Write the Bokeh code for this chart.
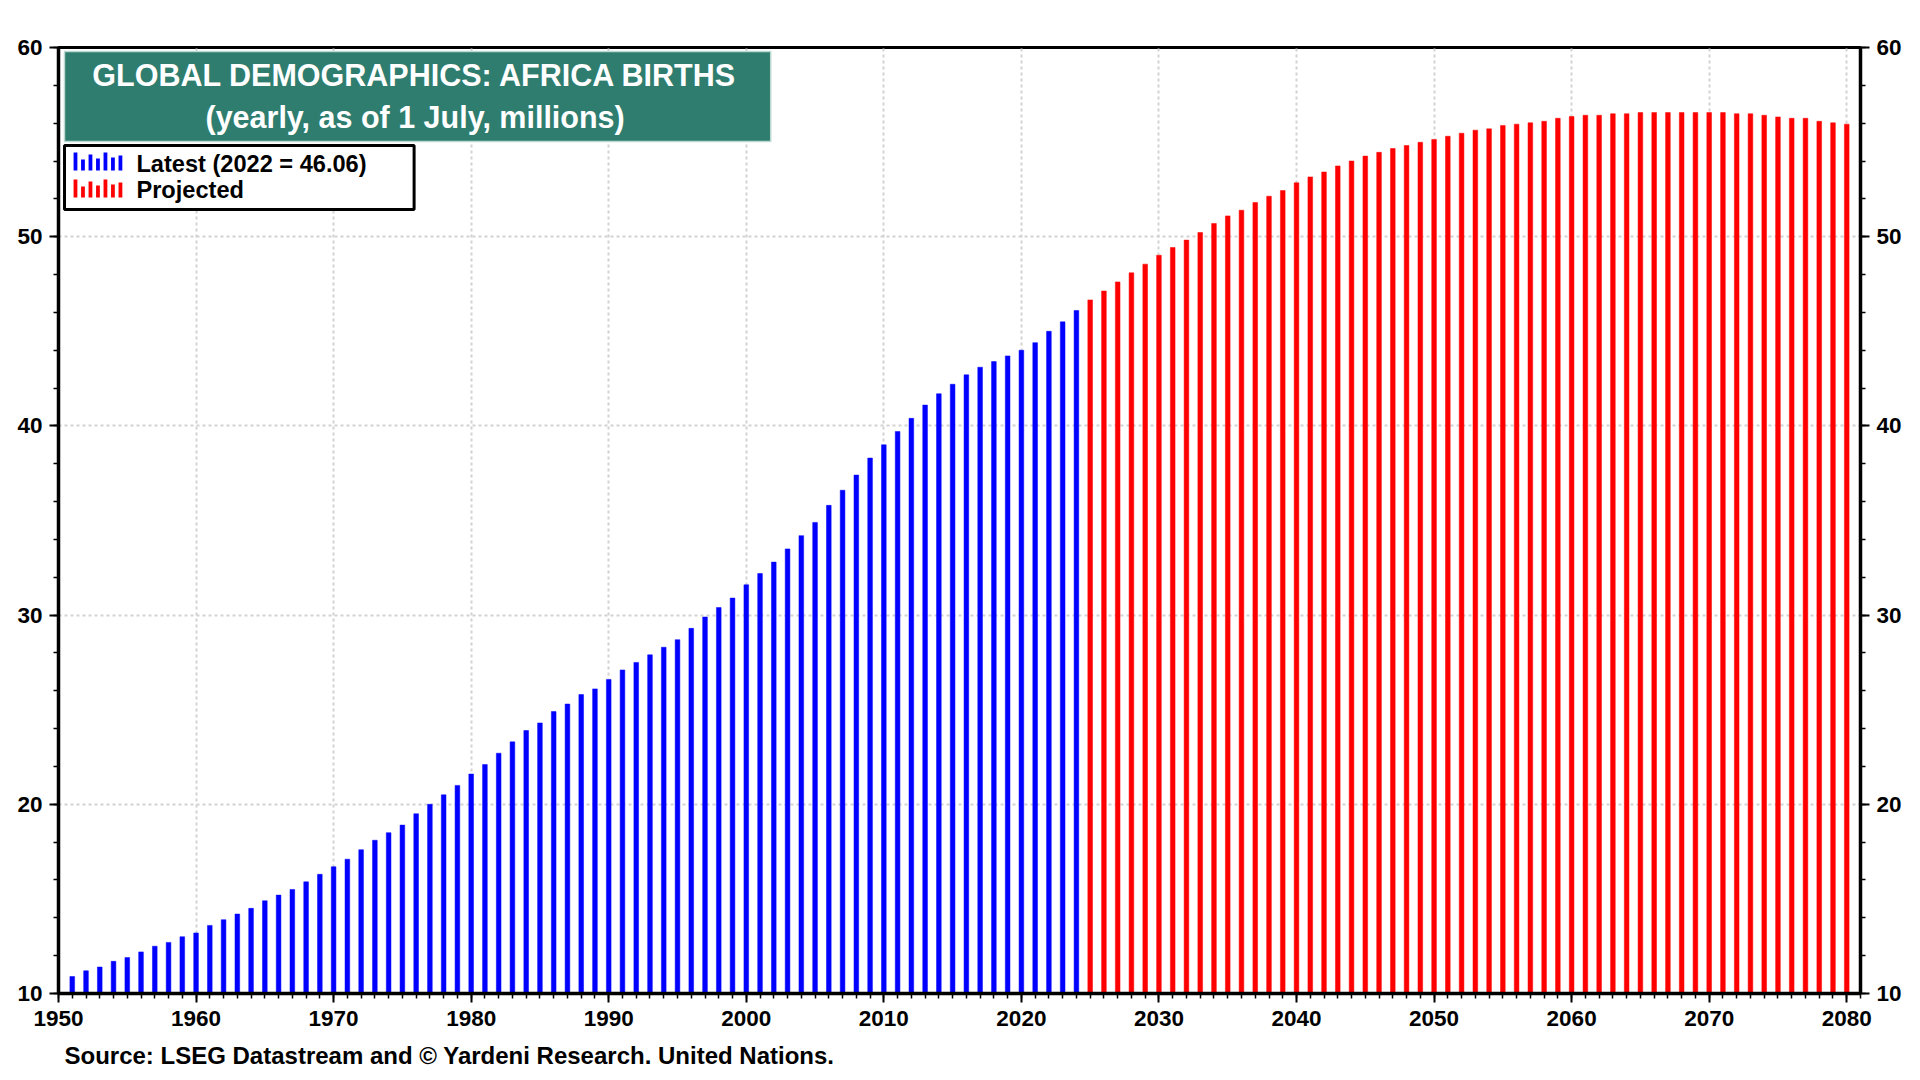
from bokeh.plotting import figure
from bokeh.models import (Range1d, LinearAxis, SingleIntervalTicker, BoxAnnotation,
                          Label, ColumnDataSource, Title)
from bokeh.embed import file_html
from bokeh.resources import INLINE

# ---------------- data ----------------
latest_years = list(range(1951, 2025))
latest_births = [10.9, 11.2, 11.4, 11.7, 11.9, 12.2, 12.5, 12.7, 13.0, 13.2,
                 13.6, 13.9, 14.2, 14.5, 14.9, 15.2, 15.5, 15.9, 16.3, 16.7,
                 17.1, 17.6, 18.1, 18.5, 18.9, 19.5, 20.0, 20.5, 21.0, 21.6,
                 22.1, 22.7, 23.3, 23.9, 24.3, 24.9, 25.3, 25.8, 26.1, 26.6,
                 27.1, 27.5, 27.9, 28.3, 28.7, 29.3, 29.9, 30.4, 30.9, 31.6,
                 32.2, 32.8, 33.5, 34.2, 34.9, 35.8, 36.6, 37.4, 38.3, 39.0,
                 39.7, 40.4, 41.1, 41.7, 42.2, 42.7, 43.1, 43.4, 43.7, 44.0,
                 44.4, 45.0, 45.5, 46.1]

projected_years = list(range(2025, 2081))
projected_births = [46.66, 47.13, 47.61, 48.09, 48.55, 49.02, 49.43, 49.82, 50.22, 50.70,
                    51.10, 51.40, 51.81, 52.14, 52.44, 52.85, 53.16, 53.42, 53.74, 54.00,
                    54.26, 54.46, 54.66, 54.82, 54.99, 55.14, 55.31, 55.47, 55.63, 55.70,
                    55.88, 55.95, 56.02, 56.10, 56.26, 56.35, 56.42, 56.42, 56.50, 56.50,
                    56.56, 56.56, 56.56, 56.56, 56.56, 56.56, 56.56, 56.50, 56.50, 56.42,
                    56.33, 56.26, 56.26, 56.10, 56.02, 55.95]

title_line1 = "GLOBAL DEMOGRAPHICS: AFRICA BIRTHS"
title_line2 = "(yearly, as of 1 July, millions)"
legend_latest = "Latest (2022 = 46.06)"
legend_projected = "Projected"
source_text = "Source: LSEG Datastream and \u00a9 Yardeni Research. United Nations."

# ---------------- layout helpers ----------------
X0, X1 = 1950, 2081
Y0, Y1 = 10, 60
FR_L, FR_R, FR_T, FR_B = 58, 1862, 47, 993   # frame edges in picture pixels
W, H = 1904, 1080

def dx(px):
    return X0 + (px - FR_L) * (X1 - X0) / (FR_R - FR_L)

def dy(py):
    return Y0 + (FR_B - py) * (Y1 - Y0) / (FR_B - FR_T)

FONT = "Liberation Sans"

p = figure(width=W, height=H, output_backend="svg", toolbar_location=None,
           x_range=Range1d(X0, X1), y_range=Range1d(Y0, Y1),
           min_border_left=FR_L, min_border_right=W - FR_R,
           min_border_top=FR_T, min_border_bottom=H - FR_B)
p.background_fill_color = "white"
p.border_fill_color = "white"
p.outline_line_color = "black"
p.outline_line_width = 3

right_axis = LinearAxis()
p.add_layout(right_axis, "right")

for ax in [p.yaxis[0], right_axis]:
    ax.ticker = SingleIntervalTicker(interval=10, num_minor_ticks=5)
    ax.major_label_standoff = 7

p.xaxis.ticker = SingleIntervalTicker(interval=10, num_minor_ticks=10)
p.xaxis.major_label_standoff = 8

for ax in [p.xaxis[0], p.yaxis[0], right_axis]:
    ax.axis_line_color = "black"
    ax.axis_line_width = 3.5
    ax.major_tick_line_color = "black"
    ax.major_tick_line_width = 2
    ax.minor_tick_line_color = "black"
    ax.minor_tick_line_width = 1.5
    ax.major_tick_in = 0
    ax.major_tick_out = 9
    ax.minor_tick_in = 0
    ax.minor_tick_out = 5
    ax.major_label_text_font = FONT
    ax.major_label_text_font_style = "bold"
    ax.major_label_text_font_size = "22.5px"
    ax.major_label_text_color = "black"

for g in [p.xgrid[0], p.ygrid[0]]:
    g.grid_line_color = "#d2d2d2"
    g.grid_line_width = 2
    g.grid_line_dash = "3 3"

src_latest = ColumnDataSource(dict(x=latest_years, top=latest_births))
src_proj = ColumnDataSource(dict(x=projected_years, top=projected_births))
p.vbar(x="x", top="top", bottom=Y0, width=0.34, source=src_latest,
       fill_color="#0000FF", line_color="#0000FF", line_width=0.5)
p.vbar(x="x", top="top", bottom=Y0, width=0.34, source=src_proj,
       fill_color="#FF0000", line_color="#FF0000", line_width=0.5)

# ---------------- title box ----------------
p.add_layout(BoxAnnotation(left=dx(64), right=dx(771), top=dy(51), bottom=dy(141),
                           fill_color="#2E7D6F", fill_alpha=1.0,
                           line_color="#bcd9d1", line_alpha=1.0, line_width=1.5))
for txt, base in [(title_line1, 74), (title_line2, 116)]:
    p.add_layout(Label(x=dx(415), y=dy(base), text=txt, text_align="center",
                       text_baseline="alphabetic", text_font=FONT,
                       text_font_style="bold", text_font_size="30.5px",
                       text_color="white"))

# ---------------- legend box ----------------
p.add_layout(BoxAnnotation(left=dx(64), right=dx(414), top=dy(145), bottom=dy(209),
                           fill_color="white", fill_alpha=1.0,
                           line_color="black", line_alpha=1.0, line_width=3))
icon_x = [75, 82.5, 90, 97.5, 105, 112.5, 120]
icon_rise = [18, 11, 16, 12, 18, 13, 15]
for color, bottom in [("#0000FF", 170), ("#FF0000", 197)]:
    for cx, rise in zip(icon_x, icon_rise):
        p.add_layout(BoxAnnotation(left=dx(cx - 1.9), right=dx(cx + 1.9),
                                   top=dy(bottom - rise), bottom=dy(bottom),
                                   fill_color=color, fill_alpha=1.0,
                                   line_color=None))
for txt, base in [(legend_latest, 163), (legend_projected, 189)]:
    p.add_layout(Label(x=dx(136), y=dy(base), text=txt, text_align="left",
                       text_baseline="alphabetic", text_font=FONT,
                       text_font_style="bold", text_font_size="23.6px",
                       text_color="black"))

# ---------------- source (below the axis) ----------------
p.add_layout(Title(text=source_text, align="left", offset=6, standoff=23,
                   text_font=FONT, text_font_style="bold",
                   text_font_size="24px", text_color="black"), "below")

open("out.html", "w").write(file_html(p, INLINE))
